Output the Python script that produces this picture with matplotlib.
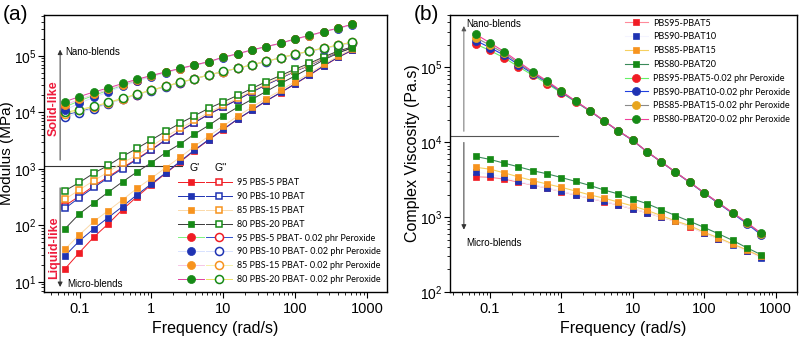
import matplotlib
matplotlib.use("Agg")
import matplotlib.pyplot as plt
from matplotlib.legend_handler import HandlerTuple
from matplotlib.ticker import FuncFormatter, LogLocator

plt.rcParams['font.family'] = ['Liberation Sans', 'DejaVu Sans']
plt.rcParams['mathtext.fontset'] = 'custom'
plt.rcParams['mathtext.rm'] = 'Liberation Sans'
plt.rcParams['mathtext.it'] = 'Liberation Sans:italic'

# ---------------- data ----------------
freq = [0.0628, 0.0995, 0.158, 0.25, 0.396, 0.628, 0.995, 1.58, 2.5, 3.96, 6.28,
        9.95, 15.8, 25.0, 39.6, 62.8, 99.5, 158, 250, 396, 628]

# panel (a): storage (G') and loss (G'') moduli
Gp_95 = [17, 33, 62, 106, 190, 320, 520, 830, 1320, 2100, 3250, 4950, 7550, 10900, 15900, 22400, 31800, 45500, 66000, 94000, 126000]
Gp_90 = [29, 53, 87, 137, 215, 347, 540, 850, 1350, 2150, 3300, 5000, 7600, 11000, 16000, 22500, 32000, 46000, 67000, 95000, 128000]
Gp_85 = [38, 68, 117, 182, 283, 450, 680, 1050, 1600, 2500, 3800, 5700, 8600, 12300, 17600, 24500, 35000, 49000, 71000, 99000, 133000]
Gp_80 = [87, 160, 250, 385, 590, 880, 1280, 1940, 2750, 4100, 5900, 8700, 12300, 17000, 23500, 32500, 44000, 61000, 85000, 112000, 140000]

Gpp_95 = [222, 330, 500, 720, 1050, 1500, 2200, 3300, 4700, 6600, 9300, 12500, 16800, 23000, 31000, 40500, 53500, 68000, 91000, 119000, 139000]
Gpp_90 = [200, 310, 470, 690, 1010, 1460, 2150, 3250, 4650, 6550, 9250, 12400, 16700, 22900, 30900, 40300, 53300, 67800, 90500, 118000, 137000]
Gpp_85 = [290, 425, 620, 880, 1290, 1730, 2500, 3700, 5200, 7200, 10000, 13300, 17800, 24000, 32000, 41500, 54500, 69000, 92000, 120000, 140000]
Gpp_80 = [410, 575, 840, 1150, 1660, 2300, 3250, 4600, 6400, 8700, 11800, 15300, 20000, 26500, 35000, 45000, 58000, 74000, 96000, 122000, 145000]

Gp_p95 = [12500, 16000, 20000, 24500, 30000, 36500, 43500, 51000, 59000, 68500, 78500, 94000, 108000, 127000, 145000, 167000, 198000, 228000, 268000, 308000, 360000]
Gp_p90 = [11000, 14500, 18500, 23000, 29000, 35500, 43000, 50500, 59000, 68000, 78000, 93500, 107500, 126500, 144500, 166000, 197000, 227000, 266000, 305000, 355000]
Gp_p85 = [13500, 17000, 21000, 25500, 31000, 37000, 44000, 51500, 59500, 68500, 78500, 94000, 108000, 127000, 145000, 167000, 198000, 228000, 268000, 308000, 360000]
Gp_p80 = [15500, 19000, 23000, 27000, 32500, 38500, 45000, 52000, 60000, 69000, 79000, 95000, 109000, 128000, 146000, 168000, 200000, 230000, 270000, 310000, 365000]

Gpp_p95 = [9000, 10400, 12200, 14500, 17400, 20700, 24500, 28800, 33800, 39300, 45800, 52800, 60300, 69300, 79800, 92800, 106000, 121000, 137000, 154000, 172000]
Gpp_p90 = [8200, 9800, 11700, 14100, 17100, 20500, 24300, 28700, 33700, 39200, 45700, 52700, 60200, 69200, 79600, 92500, 105500, 120000, 135000, 151000, 168000]
Gpp_p85 = [9500, 10800, 12500, 14700, 17600, 20800, 24600, 28900, 33900, 39400, 45900, 52900, 60400, 69400, 79900, 92900, 106500, 121500, 137500, 155000, 174000]
Gpp_p80 = [10000, 11200, 12800, 15000, 17800, 21000, 24800, 29000, 34000, 39500, 46000, 53000, 60500, 69500, 80000, 93000, 107000, 122000, 138000, 156000, 176000]

labels_a = ["95 PBS-5 PBAT", "90 PBS-10 PBAT", "85 PBS-15 PBAT", "80 PBS-20 PBAT",
            "95 PBS-5 PBAT- 0.02 phr Peroxide", "90 PBS-10 PBAT- 0.02 phr Peroxide",
            "85 PBS-15 PBAT- 0.02 phr Peroxide", "80 PBS-20 PBAT- 0.02 phr Peroxide"]

# panel (b): complex viscosity
eta_95 = [3460, 3400, 3220, 2930, 2680, 2440, 2190, 1970, 1780, 1610, 1450, 1285, 1145, 998, 878, 748, 612, 518, 432, 356, 292]
eta_90 = [4000, 3750, 3400, 3000, 2700, 2450, 2200, 1980, 1790, 1620, 1460, 1290, 1150, 1000, 880, 750, 610, 515, 430, 350, 285]
eta_85 = [4630, 4370, 3900, 3450, 3070, 2770, 2500, 2230, 1980, 1790, 1590, 1410, 1230, 1050, 890, 770, 630, 530, 440, 365, 298]
eta_80 = [6450, 5900, 5250, 4700, 4170, 3790, 3380, 3000, 2650, 2300, 2040, 1750, 1510, 1260, 1050, 880, 730, 600, 490, 390, 315]
eta_p95 = [205000, 168000, 134000, 102000, 78500, 60500, 45800, 34500, 26000, 19150, 14050, 10600, 7450, 5460, 3980, 2910, 2110, 1545, 1135, 835, 600]
eta_p90 = [228000, 184000, 145000, 109000, 82500, 63000, 47000, 35000, 26200, 19200, 14100, 10600, 7450, 5450, 3970, 2900, 2100, 1530, 1120, 820, 580]
eta_p85 = [250000, 198000, 154000, 114000, 85000, 64500, 47600, 35200, 26300, 19300, 14150, 10650, 7480, 5480, 3990, 2920, 2120, 1550, 1140, 840, 600]
eta_p80 = [277000, 213000, 162000, 119000, 87500, 66000, 48300, 35500, 26500, 19400, 14200, 10700, 7500, 5500, 4000, 2930, 2130, 1560, 1150, 850, 610]

labels_b = ["PBS95-PBAT5", "PBS90-PBAT10", "PBS85-PBAT15", "PBS80-PBAT20",
            "PBS95-PBAT5-0.02 phr Peroxide", "PBS90-PBAT10-0.02 phr Peroxide",
            "PBS85-PBAT15-0.02 phr Peroxide", "PBS80-PBAT20-0.02 phr Peroxide"]

# ---------------- style ----------------
RED, BLUE, ORANGE, GREEN, GOLD = '#f01c24', '#1f33b3', '#f7931e', '#168a16', '#e8a51e'
LEG_FONT = {'family': 'Lato', 'size': 6.5}

fig = plt.figure(figsize=(7.99, 3.38), dpi=100)
axA = fig.add_axes([44/799, 1-292/338, 343/799, 277/338])
axB = fig.add_axes([450/799, 1-292/338, 347/799, 277/338])

def style(ax):
    ax.set_xscale('log'); ax.set_yscale('log')
    ax.xaxis.set_major_locator(LogLocator(base=10, numticks=10))
    ax.xaxis.set_major_formatter(FuncFormatter(lambda v, p: f'{v:g}'))
    ax.tick_params(which='major', direction='out', length=4, width=0.8, labelsize=10.5,
                   top=False, right=False)
    ax.tick_params(axis='y', which='major', pad=1.5, labelsize=10)
    ax.tick_params(which='minor', direction='out', length=2, width=0.6, top=False, right=False)
    for s in ax.spines.values():
        s.set_linewidth(1.0)
    ax.set_xlabel('Frequency (rad/s)', fontsize=11.5, labelpad=3)

# ---------------- panel (a) ----------------
ax = axA
series_a = [
    (Gp_95, Gpp_95, 's', RED, RED, RED, 5),
    (Gp_90, Gpp_90, 's', BLUE, BLUE, BLUE, 5),
    (Gp_85, Gpp_85, 's', ORANGE, '#fbd9a8', '#fbd9a8', 5),
    (Gp_80, Gpp_80, 's', GREEN, '#3a3a3a', '#3a3a3a', 5),
    (Gp_p95, Gpp_p95, 'o', RED, '#7ef07e', '#3050d0', 5.8),
    (Gp_p90, Gpp_p90, 'o', BLUE, '#d8e2ff', '#d8e2ff', 5.8),
    (Gp_p85, Gpp_p85, 'o', ORANGE, '#f6c6e4', '#f6f0a8', 5.8),
    (Gp_p80, Gpp_p80, 'o', GREEN, '#e040a0', '#ece060', 5.8),
]
handles_a = []
for i, (gp, gpp, m, c, lc1, lc2, ms) in enumerate(series_a):
    l2, = ax.plot(freq, gpp, color=lc2, lw=0.7, marker=m, ms=ms, mfc='white', mec=c, mew=1.1,
                  zorder=3 + i)
    l1, = ax.plot(freq, gp, color=lc1, lw=0.7, marker=m, ms=ms, mfc=c, mec=c, mew=0.5,
                  zorder=12 + i)
    handles_a.append((l1, l2))

ax.set_xlim(0.032, 1900)
ax.set_ylim(6.6, 5.3e5)
style(ax)
ax.set_ylabel('Modulus (MPa)', fontsize=11, labelpad=0)

leg = ax.legend(handles_a, labels_a, handler_map={tuple: HandlerTuple(ndivide=None, pad=0.15)},
                numpoints=1, frameon=False, prop=LEG_FONT, handlelength=6.0,
                handletextpad=0.55, labelspacing=0.53, loc='upper left',
                bbox_to_anchor=(0.39, 0.41), borderaxespad=0, borderpad=0)
ax.text(0.44, 0.448, "G'", transform=ax.transAxes, fontsize=7.5, ha='center', va='center')
ax.text(0.515, 0.448, "G''", transform=ax.transAxes, fontsize=7.5, ha='center', va='center')

# annotations (a)
ax.plot([0, 0.402], [0.456, 0.456], transform=ax.transAxes, color='#333333', lw=0.8)
ax.annotate('', xy=(0.047, 0.885), xytext=(0.047, 0.466), xycoords='axes fraction',
            arrowprops=dict(arrowstyle='-|>', color='#333333', lw=0.7, mutation_scale=7))
ax.annotate('', xy=(0.047, 0.008), xytext=(0.047, 0.386), xycoords='axes fraction',
            arrowprops=dict(arrowstyle='-|>', color='#333333', lw=0.7, mutation_scale=7))
ax.text(0.062, 0.868, 'Nano-blends', transform=ax.transAxes, fontsize=7, va='center')
ax.text(0.068, 0.03, 'Micro-blends', transform=ax.transAxes, fontsize=7, va='center')
ax.text(0.027, 0.665, 'Solid-like', transform=ax.transAxes, fontsize=9, color='#ee1c3c',
        fontweight='bold', rotation=90, ha='center', va='center')
ax.text(0.029, 0.16, 'Liquid-like', transform=ax.transAxes, fontsize=9, color='#ee1c3c',
        fontweight='bold', rotation=90, ha='center', va='center')

# ---------------- panel (b) ----------------
ax = axB
series_b = [
    (eta_95, 's', RED, '#ff8a9a', 5),
    (eta_90, 's', BLUE, '#f4f4ff', 5),
    (eta_85, 's', ORANGE, '#f6d060', 5),
    (eta_80, 's', GREEN, '#3a8a5a', 5),
    (eta_p95, 'o', RED, '#66f066', 5.8),
    (eta_p90, 'o', BLUE, '#2040e0', 5.8),
    (eta_p85, 'o', GOLD, '#8a8a8a', 5.8),
    (eta_p80, 'o', GREEN, '#f0409a', 5.8),
]
handles_b = []
for i, (vals, m, c, lc, ms) in enumerate(series_b):
    ln, = ax.plot(freq, vals, color=lc, lw=0.8, marker=m, ms=ms, mfc=c, mec=c, mew=0.5,
                  zorder=3 + i)
    handles_b.append(ln)

ax.set_xlim(0.0275, 2000)
ax.set_ylim(100, 5e5)
style(ax)
ax.set_ylabel('Complex Viscosity (Pa.s)', fontsize=11.5, labelpad=0)

ax.legend(handles_b, labels_b, numpoints=1, frameon=False, prop=LEG_FONT, handlelength=2.55,
          handletextpad=0.55, labelspacing=0.53, loc='upper left',
          bbox_to_anchor=(0.504, 0.987), borderaxespad=0, borderpad=0)

ax.plot([0, 0.311], [0.564, 0.564], transform=ax.transAxes, color='#555555', lw=0.8)
ax.annotate('', xy=(0.04, 0.97), xytext=(0.04, 0.57), xycoords='axes fraction',
            arrowprops=dict(arrowstyle='-|>', color='#555555', lw=0.6, mutation_scale=7))
ax.annotate('', xy=(0.04, 0.215), xytext=(0.04, 0.55), xycoords='axes fraction',
            arrowprops=dict(arrowstyle='-|>', color='#333333', lw=0.7, mutation_scale=7))
ax.text(0.048, 0.968, 'Nano-blends', transform=ax.transAxes, fontsize=7, va='center')
ax.text(0.048, 0.177, 'Micro-blends', transform=ax.transAxes, fontsize=7, va='center')

fig.text(0.003, 0.985, '(a)', fontsize=15, va='top', ha='left')
fig.text(0.518, 0.985, '(b)', fontsize=15, va='top', ha='left')

fig.savefig('out.png', dpi=100)
